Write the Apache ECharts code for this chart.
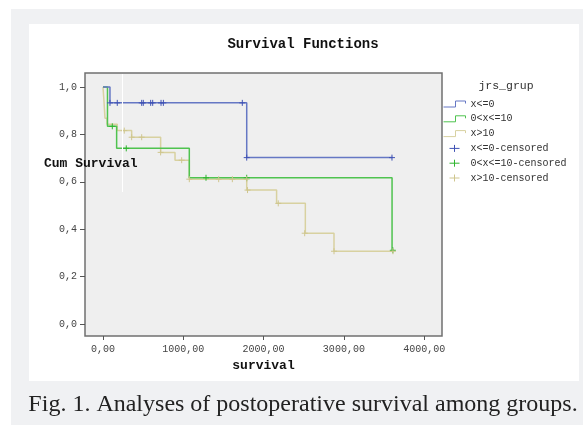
<!DOCTYPE html>
<html><head><meta charset="utf-8">
<script src="https://cdn.jsdelivr.net/npm/echarts@6/dist/echarts.min.js"></script>
<style>
html,body{margin:0;padding:0;background:#fff;}
#g{position:absolute;left:11px;top:9px;width:572px;height:416px;background:#f0f1f3;}
#w{position:absolute;left:29px;top:24px;width:550px;height:357px;background:#fff;}
#c{position:absolute;left:0;top:0;width:583px;height:425px;}
</style>
</head><body><div id="g"></div><div id="w"></div><div id="c"></div>
<script>
// ---- data ----
const xTicks = [0, 1000, 2000, 3000, 4000];
const yTicks = [0, 0.2, 0.4, 0.6, 0.8, 1.0];
const groupNames = ['x<=0', '0<x<=10', 'x>10'];
const censNames = ['x<=0-censored', '0<x<=10-censored', 'x>10-censored'];
// Kaplan-Meier steps [time, cumulative survival]
const stepsG1 = [[0,1],[87,0.933],[1790,0.702],[3605,0.702]];
const stepsG2 = [[0,1],[56,0.834],[170,0.741],[1075,0.617],[3600,0.311],[3625,0.311]];
const stepsG3 = [[0,1],[12,0.942],[25,0.868],[50,0.843],[178,0.816],[357,0.788],[718,0.724],[897,0.691],[1075,0.611],[1790,0.565],[2162,0.509],[2520,0.383],[2877,0.307],[3611,0.307]];
// censored observations
const censG1 = [[87,0.933],[178,0.933],[482,0.933],[502,0.933],[594,0.933],[619,0.933],[723,0.933],[752,0.933],[1735,0.933],[1790,0.702],[3599,0.702]];
const censG2 = [[116,0.834],[290,0.741],[1283,0.617],[1790,0.617],[3610,0.311]];
const censG3 = [[265,0.816],[357,0.788],[482,0.788],[718,0.724],[980,0.691],[1075,0.611],[1441,0.611],[1611,0.611],[1790,0.611],[1800,0.565],[2183,0.509],[2512,0.383],[2877,0.307],[3611,0.307]];

const lineColors = ['#6577c4', '#4fc34f', '#d8d1a0'];
const markColors = ['#3f52b4', '#2fb52f', '#cfc68e'];
const mono = 'Liberation Mono';
const comma = (v, d) => v.toFixed(d).replace('.', ',');

const chart = echarts.init(document.getElementById('c'), null, {renderer: 'canvas'});
const steps = [stepsG1, stepsG2, stepsG3];
const cens = [censG1, censG2, censG3];
const series = [];
steps.forEach((d, i) => {
  series.push({
    name: groupNames[i], type: 'line', step: 'end', data: d,
    showSymbol: false, symbol: 'none', silent: true,
    lineStyle: {color: lineColors[i], width: 1.5},
    itemStyle: {color: lineColors[i]},
    z: 2 + (2 - i)
  });
});
const plus = 'path://M5,0L5,10M0,5L10,5';
cens.forEach((d, i) => {
  series.push({
    name: censNames[i], type: 'scatter', data: d, symbol: plus, symbolSize: 6, silent: true,
    itemStyle: {color: 'transparent', borderColor: markColors[i], borderWidth: 1, opacity: 1},
    z: 6
  });
});
const stepIcon = 'path://M0,6L12,6L12,0L22,0L22,2.5';
const plusIcon = 'path://M0,0M22,7M11,0L11,7M6,3.5L16,3.5';
const legendData = groupNames.map((n, i) => ({
  name: n, icon: stepIcon,
  itemStyle: {color: 'transparent', borderColor: lineColors[i], borderWidth: 1}
})).concat(censNames.map((n, i) => ({
  name: n, icon: plusIcon,
  itemStyle: {color: 'transparent', borderColor: markColors[i], borderWidth: 1}
})));

chart.setOption({
  animation: false,
  backgroundColor: 'transparent',
  title: {
    text: 'Survival Functions', left: 298, top: 32, textAlign: 'center',
    textStyle: {fontFamily: mono, fontWeight: 'bold', fontSize: 14, color: '#111'}
  },
  grid: {
    left: 85, top: 73, right: 141, bottom: 89, show: true,
    backgroundColor: '#efefef', borderColor: '#707070', borderWidth: 1.5
  },
  legend: {
    orient: 'vertical', left: 438, top: 94, padding: 5, itemWidth: 22, itemHeight: 7, itemGap: 4.8,
    selectedMode: false, symbolKeepAspect: true,
    textStyle: {fontFamily: mono, fontSize: 10, color: '#333'},
    data: legendData
  },
  xAxis: {
    type: 'value', min: -224, max: 4222,
    name: 'survival', nameLocation: 'middle', nameGap: 22,
    nameTextStyle: {fontFamily: mono, fontWeight: 'bold', fontSize: 13, color: '#111'},
    axisLine: {show: false, onZero: false},
    axisTick: {show: true, length: 4, customValues: xTicks, lineStyle: {color: '#555'}},
    axisLabel: {customValues: xTicks, margin: 8, fontFamily: mono, fontSize: 10, color: '#444',
      formatter: v => comma(v, 2)},
    splitLine: {show: false}
  },
  yAxis: {
    type: 'value', min: -0.0506, max: 1.059,
    axisLine: {show: false, onZero: false},
    axisTick: {show: true, length: 5, customValues: yTicks, lineStyle: {color: '#555'}},
    axisLabel: {customValues: yTicks, margin: 8, fontFamily: mono, fontSize: 10, color: '#444',
      formatter: v => comma(v, 1)},
    splitLine: {show: false}
  },
  graphic: [
    {type: 'line', shape: {x1: 122.5, y1: 74, x2: 122.5, y2: 192}, style: {stroke: '#ffffff', lineWidth: 1}, z: 50, silent: true},
    {type: 'text', x: 44, y: 164, z: 60, style: {text: 'Cum Survival', font: 'bold 13px "Liberation Mono"', fill: '#111', verticalAlign: 'middle'}},
    {type: 'text', x: 506, y: 86, z: 60, style: {text: 'jrs_grup', font: '11.5px "Liberation Mono"', fill: '#333', align: 'center', verticalAlign: 'middle'}},
    {type: 'text', x: 303, y: 405, z: 60, style: {text: 'Fig. 1. Analyses of postoperative survival among groups.', font: '24px "Liberation Serif"', fill: '#222', align: 'center', verticalAlign: 'middle'}}
  ],
  series: series
});
</script></body></html>
